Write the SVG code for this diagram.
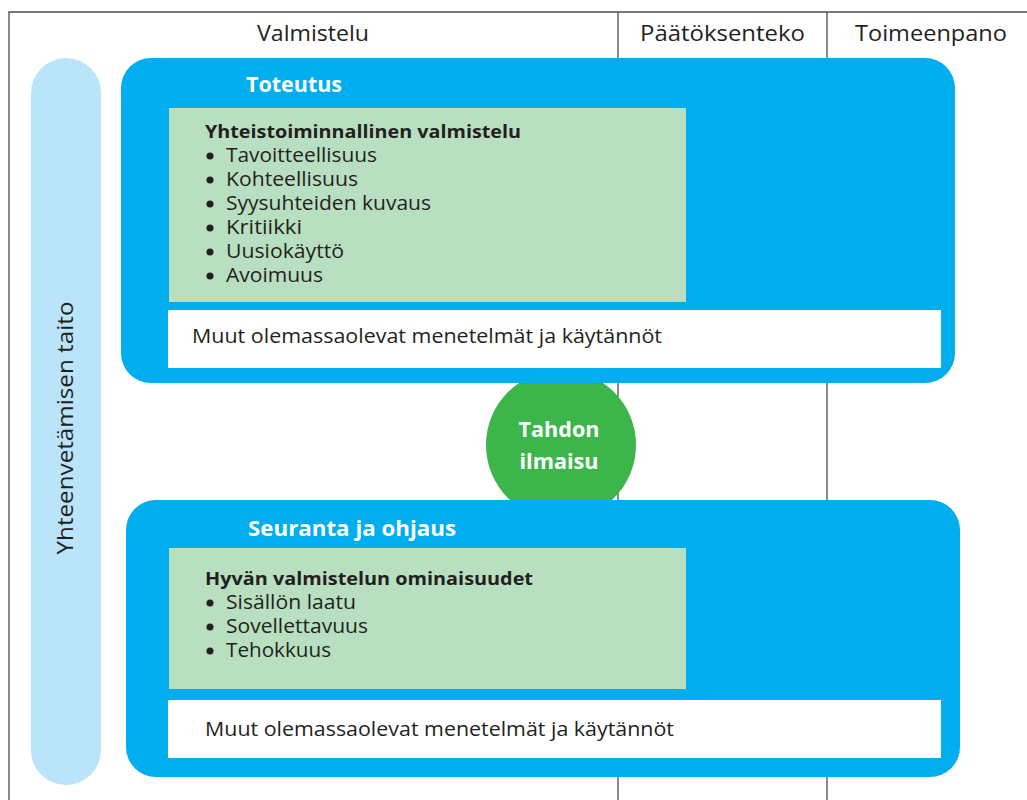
<svg xmlns="http://www.w3.org/2000/svg" width="1027" height="800" viewBox="0 0 1027 800">
<style>
text{font-family:"Open Sans","Noto Sans","Liberation Sans",sans-serif;fill:#231f20}
.hd{font-size:21px}
.b{font-weight:bold}
.w{fill:#fff;font-weight:bold}
.li{font-size:20px}
.big{fill:#00aeef}
.grn{fill:#b8dfc0}
.wht{fill:#fff}
.ln{stroke:#4d4d4d;stroke-width:1.3;fill:none}
</style>
<g id="frame">
<path class="ln" d="M9 800V12H1027"/>
<line class="ln" x1="618" y1="12" x2="618" y2="800"/>
<line class="ln" x1="827" y1="12" x2="827" y2="800"/>
<text class="hd" x="257" y="41" textLength="112" lengthAdjust="spacingAndGlyphs">Valmistelu</text>
<text class="hd" x="640" y="41" textLength="165" lengthAdjust="spacingAndGlyphs">Päätöksenteko</text>
<text class="hd" x="855" y="41" textLength="152" lengthAdjust="spacingAndGlyphs">Toimeenpano</text>
</g>
<g id="side">
<rect x="31" y="58" width="70" height="727" rx="35" fill="#b9e4f9"/>
<text class="hd" transform="translate(73,428) rotate(-90)" text-anchor="middle" font-size="22" textLength="253" lengthAdjust="spacingAndGlyphs">Yhteenvetämisen taito</text>
</g>
<g id="circle">
<circle cx="561" cy="445" r="75" fill="#3cb64b"/>
<text class="w" x="559" y="437" text-anchor="middle" font-size="22" textLength="81" lengthAdjust="spacingAndGlyphs">Tahdon</text>
<text class="w" x="559" y="469" text-anchor="middle" font-size="22" textLength="79" lengthAdjust="spacingAndGlyphs">ilmaisu</text>
</g>
<g id="toteutus">
<rect class="big" x="121" y="58" width="834" height="325" rx="30"/>
<text class="w" x="246" y="92" font-size="22" textLength="96" lengthAdjust="spacingAndGlyphs">Toteutus</text>
<rect class="grn" x="169" y="108" width="517" height="194"/>
<text class="b" x="205" y="138" font-size="18.5" textLength="316" lengthAdjust="spacingAndGlyphs">Yhteistoiminnallinen valmistelu</text>
<g fill="#231f20"><circle cx="210" cy="156" r="3.5"/><circle cx="210" cy="180" r="3.5"/><circle cx="210" cy="204" r="3.5"/><circle cx="210" cy="228" r="3.5"/><circle cx="210" cy="252" r="3.5"/><circle cx="210" cy="276" r="3.5"/></g>
<text class="li" x="226" y="162" textLength="151" lengthAdjust="spacingAndGlyphs">Tavoitteellisuus</text>
<text class="li" x="226" y="186" textLength="132" lengthAdjust="spacingAndGlyphs">Kohteellisuus</text>
<text class="li" x="226" y="210" textLength="205" lengthAdjust="spacingAndGlyphs">Syysuhteiden kuvaus</text>
<text class="li" x="226" y="234" textLength="76" lengthAdjust="spacingAndGlyphs">Kritiikki</text>
<text class="li" x="226" y="258" textLength="118" lengthAdjust="spacingAndGlyphs">Uusiokäyttö</text>
<text class="li" x="226" y="282" textLength="97" lengthAdjust="spacingAndGlyphs">Avoimuus</text>
<rect class="wht" x="168" y="310" width="773" height="58"/>
<text class="li" x="192" y="343" textLength="470" lengthAdjust="spacingAndGlyphs">Muut olemassaolevat menetelmät ja käytännöt</text>
</g>
<g id="seuranta">
<rect class="big" x="126" y="500" width="834" height="277" rx="30"/>
<text class="w" x="248" y="536" font-size="21" textLength="208" lengthAdjust="spacingAndGlyphs">Seuranta ja ohjaus</text>
<rect class="grn" x="169" y="548" width="517" height="141"/>
<text class="b" x="205" y="585" font-size="18.5" textLength="328" lengthAdjust="spacingAndGlyphs">Hyvän valmistelun ominaisuudet</text>
<g fill="#231f20"><circle cx="210" cy="603" r="3.5"/><circle cx="210" cy="627" r="3.5"/><circle cx="210" cy="651" r="3.5"/></g>
<text class="li" x="226" y="609" textLength="130" lengthAdjust="spacingAndGlyphs">Sisällön laatu</text>
<text class="li" x="226" y="633" textLength="142" lengthAdjust="spacingAndGlyphs">Sovellettavuus</text>
<text class="li" x="226" y="657" textLength="105" lengthAdjust="spacingAndGlyphs">Tehokkuus</text>
<rect class="wht" x="168" y="700" width="773" height="58"/>
<text class="li" x="205" y="736" textLength="469" lengthAdjust="spacingAndGlyphs">Muut olemassaolevat menetelmät ja käytännöt</text>
</g>
</svg>
